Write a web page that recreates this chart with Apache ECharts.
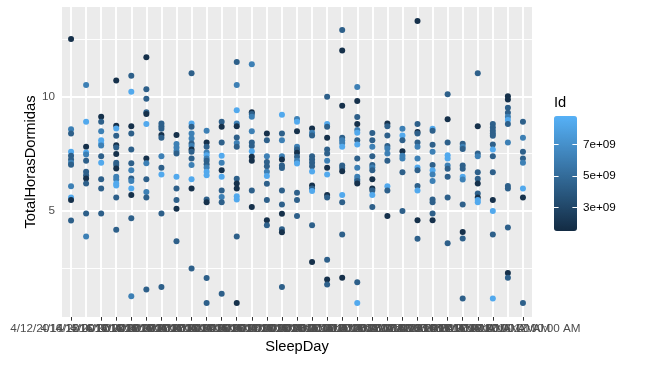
<!DOCTYPE html>
<html><head><meta charset="utf-8">
<script src="https://cdn.jsdelivr.net/npm/echarts@6/dist/echarts.min.js"></script>
<style>html,body{margin:0;padding:0;background:#fff}#c{width:649px;height:375px}</style>
</head><body><div id="c"></div>
<script>
const sleepDays = [
 "4/12/2016 12:00:00 AM","4/13/2016 12:00:00 AM","4/14/2016 12:00:00 AM","4/15/2016 12:00:00 AM",
 "4/16/2016 12:00:00 AM","4/17/2016 12:00:00 AM","4/18/2016 12:00:00 AM","4/19/2016 12:00:00 AM",
 "4/20/2016 12:00:00 AM","4/21/2016 12:00:00 AM","4/22/2016 12:00:00 AM","4/23/2016 12:00:00 AM",
 "4/24/2016 12:00:00 AM","4/25/2016 12:00:00 AM","4/26/2016 12:00:00 AM","4/27/2016 12:00:00 AM",
 "4/28/2016 12:00:00 AM","4/29/2016 12:00:00 AM","4/30/2016 12:00:00 AM","5/1/2016 12:00:00 AM",
 "5/10/2016 12:00:00 AM","5/11/2016 12:00:00 AM","5/12/2016 12:00:00 AM","5/2/2016 12:00:00 AM",
 "5/3/2016 12:00:00 AM","5/4/2016 12:00:00 AM","5/5/2016 12:00:00 AM","5/6/2016 12:00:00 AM",
 "5/7/2016 12:00:00 AM","5/8/2016 12:00:00 AM","5/9/2016 12:00:00 AM"
];
// representative user Ids (colour shades)
const D = 1844505072, M = 4388161847, B = 6117666160, L = 8378563200;
const idMin = 1503960366, idMax = 8792009665;
const idTicks = [3e9, 5e9, 7e9];
const yTicks = [5, 10];
const yMinor = [2.5, 7.5, 12.5];

const totalHoras = [
 [12.51,8.57,8.38,7.58,7.41,7.24,7.10,7.01,6.08,5.58,5.47,4.58],
 [10.50,8.89,7.80,7.55,7.46,7.19,6.71,6.56,6.41,6.20,4.88,3.88],
 [9.11,8.89,8.48,8.09,7.94,7.86,7.39,7.10,6.38,5.98,4.88],
 [10.70,8.72,8.60,8.28,7.87,7.77,7.48,7.10,7.00,6.85,6.49,6.37,6.20,6.11,5.58,4.18],
 [10.90,10.20,8.70,8.38,7.68,7.08,6.78,6.41,6.31,5.98,5.69,4.68,1.27],
 [11.71,10.31,9.90,9.31,9.23,8.79,7.29,7.08,6.38,5.82,5.58,1.57],
 [8.82,8.70,8.59,8.31,8.19,7.39,6.88,6.59,4.88,1.68],
 [8.31,7.92,7.77,7.62,7.51,6.49,5.98,5.48,5.09,3.67],
 [11.01,8.82,8.67,8.38,8.16,7.94,7.83,7.68,7.58,7.29,7.00,6.38,5.98,2.48],
 [8.50,7.99,7.80,7.55,7.43,7.29,7.19,7.04,6.90,6.71,6.56,5.50,5.38,2.07,0.98],
 [8.89,8.67,7.99,7.41,7.10,6.78,6.49,5.89,5.61,5.38,1.38],
 [11.50,10.50,9.40,8.82,8.70,8.21,7.97,7.80,6.40,6.20,5.98,5.64,5.50,3.88,0.98],
 [11.40,9.31,9.23,9.11,8.48,7.99,7.83,7.61,7.36,7.19,5.89,5.17],
 [8.38,8.08,7.39,7.14,6.95,6.71,6.52,6.18,5.48,4.59,4.37],
 [9.20,8.38,8.08,7.39,7.24,6.98,6.87,5.89,5.28,4.87,4.20,4.07,1.68],
 [9.01,8.89,8.48,7.80,7.68,7.54,7.36,7.19,7.07,5.79,5.48,4.78],
 [8.60,8.41,8.29,7.39,7.24,7.10,6.95,6.72,6.11,5.98,5.87,4.37,2.77],
 [9.99,8.79,8.67,8.19,7.68,7.51,7.19,6.88,6.59,5.69,5.58,2.87,2.00,1.78],
 [12.90,12.00,9.59,8.19,8.08,7.97,7.80,6.98,6.87,6.73,5.69,5.38,3.97,2.08],
 [10.41,9.80,9.10,8.79,8.53,8.41,8.09,7.90,7.29,6.88,6.49,6.38,6.30,6.20,1.88,0.98],
 [8.40,8.09,7.80,7.39,7.00,6.90,6.78,6.38,5.98,5.89,5.69,5.17],
 [8.82,8.70,8.29,7.83,7.73,7.51,7.19,6.08,5.89,4.78],
 [8.59,8.29,8.09,7.61,7.41,7.29,6.69,4.99],
 [13.29,8.79,8.45,8.38,7.99,7.80,7.29,6.90,6.78,6.09,5.89,4.59,3.78],
 [8.59,8.50,7.89,7.58,7.00,6.78,6.59,6.30,5.50,5.38,4.88,4.59],
 [10.09,9.00,7.99,7.43,7.29,6.98,6.84,6.49,5.58,3.59],
 [7.93,7.80,7.70,6.98,6.84,6.49,6.37,5.28,4.08,3.79,1.17],
 [11.01,8.70,7.51,7.39,6.69,6.40,6.20,5.76,5.58,5.47,5.38],
 [8.79,8.64,8.50,8.38,8.28,7.90,7.68,7.39,6.69,5.48,5.00,3.97,1.17],
 [10.01,9.87,9.50,9.29,9.11,8.97,8.79,7.99,6.09,5.98,4.27,2.29,2.08],
 [8.89,8.19,7.58,7.29,7.10,5.98,5.58,0.98]
];
const userIds = [
 [D,B,M,L,M,M,B,M,B,L,D,M],
 [B,L,D,L,B,M,M,M,D,M,M,B],
 [D,M,B,L,L,B,M,L,M,M,M],
 [D,D,L,M,D,M,D,M,M,D,B,B,L,L,M,M],
 [M,L,D,M,M,M,B,M,B,L,D,M,B],
 [D,M,M,M,D,L,D,B,M,B,M,M],
 [M,M,M,D,M,B,M,L,M,M],
 [D,B,B,B,M,L,M,M,D,M],
 [M,L,M,B,B,M,B,D,M,M,B,L,D,M],
 [B,D,M,B,L,B,M,M,B,L,L,M,D,M,M],
 [M,D,M,L,B,D,L,M,B,M,M],
 [M,B,L,B,D,M,B,M,M,D,D,L,L,M,D],
 [B,D,M,B,B,M,M,L,D,D,M,D],
 [D,M,B,M,M,B,L,M,M,D,M],
 [L,M,B,B,D,M,M,M,M,D,M,D,M],
 [B,L,D,B,M,D,M,B,L,M,M,M],
 [D,B,M,M,M,M,M,L,D,M,L,M,D],
 [M,L,M,D,M,M,B,D,L,D,M,M,D,M],
 [M,D,D,M,B,B,L,M,M,D,L,M,M,D],
 [B,D,M,D,B,L,M,L,M,B,B,B,M,D,M,L],
 [M,M,B,M,M,B,M,D,D,M,L,M],
 [D,M,M,M,B,B,M,L,M,D],
 [B,L,M,D,B,B,M,M],
 [D,M,D,M,M,B,B,L,M,M,L,D,M],
 [L,M,M,B,M,L,B,B,M,M,M,D],
 [M,D,M,L,L,B,M,M,M,M],
 [M,B,M,M,M,L,B,M,D,M,M],
 [M,D,M,B,M,M,D,M,D,L,L],
 [M,M,M,M,M,M,L,M,M,D,L,M,L],
 [D,D,M,M,B,L,M,B,M,M,M,D,M],
 [M,B,M,M,B,L,D,M]
];

const points = [];
totalHoras.forEach((arr, i) => arr.forEach((h, j) => points.push([i, h, userIds[i][j]])));
const allH = points.map(p => p[1]);
const hMin = Math.min(...allH), hMax = Math.max(...allH), pad = (hMax - hMin) * 0.05;
const dayIdx = sleepDays.map((d, i) => i);
const FONT = '"Liberation Sans", Arial, Helvetica, sans-serif';

const gridLines = [];
yMinor.forEach(v => gridLines.push({yAxis: v, lineStyle: {color: '#fff', width: 0.95, type: 'solid'}}));
yTicks.forEach(v => gridLines.push({yAxis: v, lineStyle: {color: '#fff', width: 1.9, type: 'solid'}}));
dayIdx.forEach(v => gridLines.push({xAxis: v, lineStyle: {color: '#fff', width: 1.9, type: 'solid'}}));

const chart = echarts.init(document.getElementById('c'), null, {renderer: 'canvas'});
chart.setOption({
  animation: false,
  textStyle: {fontFamily: FONT},
  title: {text: 'Id', left: 554, top: 95, padding: 0,
    textStyle: {fontSize: 14.7, fontWeight: 'normal', color: '#000', fontFamily: FONT}},
  grid: [
    {left: 62, top: 7, width: 470, height: 310, show: true, backgroundColor: '#EBEBEB', borderWidth: 0},
    {left: 554, top: 116, width: 23, height: 115, show: false}
  ],
  xAxis: [
    {type: 'value', gridIndex: 0, min: -0.6, max: sleepDays.length - 1 + 0.6,
     axisLine: {show: false}, splitLine: {show: false},
     axisTick: {show: true, customValues: dayIdx, length: 3.7, lineStyle: {color: '#333', width: 1}},
     axisLabel: {customValues: dayIdx, formatter: v => sleepDays[v], color: '#4D4D4D', fontSize: 11.7, margin: 6,
       fontFamily: FONT, showMinLabel: true, showMaxLabel: true, hideOverlap: false},
     name: 'SleepDay', nameLocation: 'middle', nameGap: 22, nameMoveOverlap: false,
     nameTextStyle: {color: '#000', fontSize: 14.7, fontFamily: FONT}},
    {type: 'value', gridIndex: 1, show: false, min: 0, max: 1}
  ],
  yAxis: [
    {type: 'value', gridIndex: 0, min: hMin - pad, max: hMax + pad,
     axisLine: {show: false}, splitLine: {show: false},
     axisTick: {show: true, customValues: yTicks, length: 3.7, lineStyle: {color: '#333', width: 1}},
     axisLabel: {customValues: yTicks, color: '#4D4D4D', fontSize: 11.7, margin: 7, fontFamily: FONT},
     name: 'TotalHorasDormidas', nameLocation: 'middle', nameGap: 24, nameRotate: 90, nameMoveOverlap: false,
     nameTextStyle: {color: '#000', fontSize: 14.7, fontFamily: FONT}},
    {type: 'value', gridIndex: 1, position: 'left', min: idMin, max: idMax, z: 10,
     axisLine: {show: false}, splitLine: {show: false},
     axisTick: {show: true, inside: true, customValues: idTicks, length: 4.6, lineStyle: {color: '#fff', width: 1}},
     axisLabel: {show: false}},
    {type: 'value', gridIndex: 1, position: 'right', min: idMin, max: idMax, z: 10,
     axisLine: {show: false}, splitLine: {show: false},
     axisTick: {show: true, inside: true, customValues: idTicks, length: 4.6, lineStyle: {color: '#fff', width: 1}},
     axisLabel: {customValues: idTicks, margin: 6, color: '#000', fontSize: 11.7, fontFamily: FONT,
       formatter: v => (v / 1e9) + 'e+09'}}
  ],
  visualMap: {
    type: 'continuous', min: idMin, max: idMax, dimension: 2, seriesIndex: 1,
    inRange: {color: ['#132B43', '#56B1F7']},
    left: 554, top: 116, itemWidth: 23, itemHeight: 115, padding: 0,
    calculable: false, hoverLink: false, text: null, showLabel: false
  },
  series: [
    {type: 'scatter', xAxisIndex: 0, yAxisIndex: 0, data: [], z: 1, silent: true,
     markLine: {z: 1, silent: true, symbol: ['none', 'none'], label: {show: false}, animation: false,
       lineStyle: {type: 'solid', color: '#fff'}, emphasis: {disabled: true}, data: gridLines}},
    {type: 'scatter', xAxisIndex: 0, yAxisIndex: 0, data: points, symbolSize: 6, z: 3,
     itemStyle: {opacity: 1}}
  ]
});
</script></body></html>
